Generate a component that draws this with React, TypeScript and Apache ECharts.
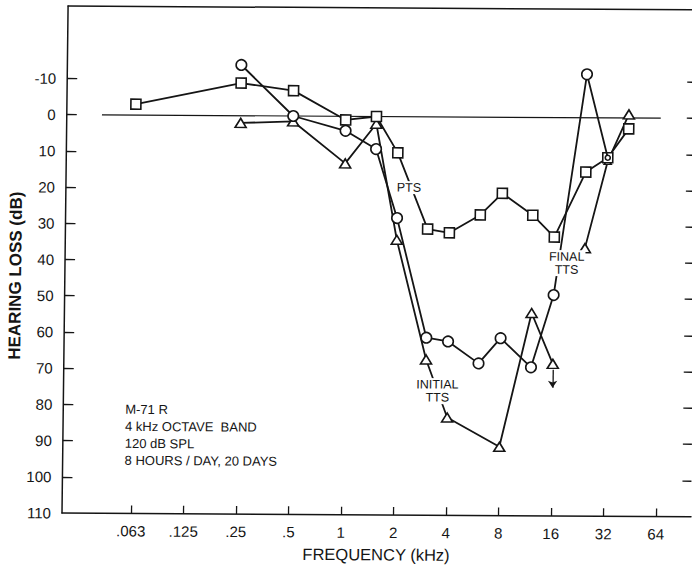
import React, { useEffect, useRef } from "react";
import * as echarts from "echarts";

// Octave-band frequency axis (kHz) and hearing-loss axis (dB)
const FREQ_TICKS = [0.0625, 0.125, 0.25, 0.5, 1, 2, 4, 8, 16, 32, 64];
const FREQ_TICK_LABELS = [".063", ".125", ".25", ".5", "1", "2", "4", "8", "16", "32", "64"];
const DB_LABELS = [-10, 0, 10, 20, 30, 40, 50, 60, 70, 80, 90, 100, 110];
const DB_TICKS = [-10, 0, 10, 20, 30, 40, 50, 60, 70, 80, 90, 100];

// Permanent threshold shift (squares)
const PTS_FREQ = [0.0625, 0.25, 0.5, 1, 1.5, 2, 3, 4, 6, 8, 12, 16, 24, 32, 42];
const PTS_DB = [-3, -9, -7, 1, 0, 10, 31, 32, 27, 21, 27, 33, 15, 11, 3];

// Final temporary threshold shift (circles)
const FINAL_FREQ = [0.25, 0.5, 1, 1.5, 2, 3, 4, 6, 8, 12, 16, 24, 32];
const FINAL_DB = [-14, 0, 4, 9, 28, 61, 62, 68, 61, 69, 49, -12, 11];

// Initial temporary threshold shift (triangles), two separate runs
const INITIAL_FREQ = [0.25, 0.5, 1, 1.5, 2, 3, 4, 8, 12, 16];
const INITIAL_DB = [2, 1.5, 13, 2, 34, 67, 83, 91, 54, 68];
const INITIAL_HIGH_FREQ = [24, 32, 42];
const INITIAL_HIGH_DB = [36, 12, -1];

// 0 dB reference line
const REF_FREQ = [0.04, 64];
const REF_DB = [0, 0];

// Series captions anchored in data space [kHz, dB]
const PTS_CAPTION_AT = [2.33, 19.6];
const FINAL_CAPTION_AT = [18.9, 40.2];
const INITIAL_CAPTION_AT = [3.5, 75.7];

// "Greater than" arrow below the last initial-TTS point
const ARROW_FREQ = 16;
const ARROW_FROM_DB = 69.6;
const ARROW_TO_DB = 74.6;

const NOTE_LINES = ["M-71 R", "4 kHz OCTAVE  BAND", "120 dB SPL", "8 HOURS / DAY, 20 DAYS"];

const X_MIN = -5.314;
const X_MAX = 6.667;
const INK = "#151515";
const FONT = '"Liberation Sans", Arial, sans-serif';

const oct = (f: number) => Math.log2(f);
const pairs = (fs: number[], ds: number[]) => fs.map((f, i) => [oct(f), ds[i]]);

const tickLabel = (v: number) => {
  const i = FREQ_TICKS.findIndex((f) => Math.abs(oct(f) - v) < 1e-6);
  return i >= 0 ? FREQ_TICK_LABELS[i] : "";
};

const captionLabel = (text: string) => ({
  show: true,
  position: "inside",
  formatter: text,
  color: INK,
  fontFamily: FONT,
  fontSize: 12.5,
  lineHeight: 13,
  backgroundColor: "#fff",
  padding: [0, 1],
});

const markerStyle = {
  color: "#fff",
  borderColor: INK,
  borderWidth: 1.6,
};

export default function App() {
  const ref = useRef<HTMLDivElement>(null);

  useEffect(() => {
    if (!ref.current) return;
    const chart = echarts.init(ref.current, null, { renderer: "svg", width: 692, height: 566 });

    const finalData = FINAL_FREQ.map((f, i) =>
      f === 32 ? { value: [oct(f), FINAL_DB[i]], symbolSize: 5 } : [oct(f), FINAL_DB[i]]
    );
    const initialHighData = INITIAL_HIGH_FREQ.map((f, i) =>
      f === 32 ? { value: [oct(f), INITIAL_HIGH_DB[i]], symbolSize: [7, 6] } : [oct(f), INITIAL_HIGH_DB[i]]
    );

    const option: any = {
      animation: false,
      backgroundColor: "#fff",
      grid: { left: 62, right: 1, top: 6, bottom: 53, containLabel: false },
      xAxis: [
        {
          type: "value",
          position: "bottom",
          min: X_MIN,
          max: X_MAX,
          axisLine: { show: true, onZero: false, lineStyle: { color: INK, width: 1.5 } },
          axisTick: {
            show: true,
            inside: true,
            length: 8,
            customValues: FREQ_TICKS.map(oct),
            lineStyle: { color: INK, width: 1.3 },
          },
          axisLabel: {
            customValues: FREQ_TICKS.map(oct),
            formatter: (v: number) => tickLabel(v),
            color: INK,
            fontFamily: FONT,
            fontSize: 15,
            margin: 10,
          },
          splitLine: { show: false },
          name: "FREQUENCY (kHz)",
          nameLocation: "middle",
          nameGap: 31,
          nameTextStyle: { color: INK, fontFamily: FONT, fontSize: 16.5 },
        },
        {
          type: "value",
          position: "top",
          min: X_MIN,
          max: X_MAX,
          axisLine: { show: true, onZero: false, lineStyle: { color: INK, width: 1.5 } },
          axisTick: { show: false },
          axisLabel: { show: false },
          splitLine: { show: false },
        },
      ],
      yAxis: [
        {
          type: "value",
          position: "left",
          inverse: true,
          min: -30,
          max: 110,
          axisLine: { show: true, onZero: false, lineStyle: { color: INK, width: 1.5 } },
          axisTick: {
            show: true,
            inside: true,
            length: 10,
            customValues: DB_TICKS,
            lineStyle: { color: INK, width: 1.3 },
          },
          axisLabel: {
            customValues: DB_LABELS,
            color: INK,
            fontFamily: FONT,
            fontSize: 15,
            margin: 11,
          },
          splitLine: { show: false },
        },
        {
          type: "value",
          position: "right",
          inverse: true,
          min: -30,
          max: 110,
          axisLine: { show: false, onZero: false },
          axisTick: {
            show: true,
            inside: true,
            length: 9,
            customValues: DB_TICKS,
            lineStyle: { color: INK, width: 1.3 },
          },
          axisLabel: { show: false },
          splitLine: { show: false },
        },
      ],
      series: [
        {
          name: "0 dB",
          type: "line",
          data: pairs(REF_FREQ, REF_DB),
          showSymbol: false,
          symbol: "none",
          lineStyle: { color: INK, width: 1.2 },
          silent: true,
          z: 1,
        },
        {
          name: "Initial TTS",
          type: "line",
          data: pairs(INITIAL_FREQ, INITIAL_DB),
          symbol: "triangle",
          symbolSize: [11, 9],
          lineStyle: { color: INK, width: 1.8 },
          itemStyle: markerStyle,
          silent: true,
          z: 2,
          markPoint: {
            symbol: "circle",
            symbolSize: 0,
            silent: true,
            label: captionLabel("INITIAL\nTTS"),
            data: [{ coord: [oct(INITIAL_CAPTION_AT[0]), INITIAL_CAPTION_AT[1]] }],
          },
          markLine: {
            silent: true,
            symbol: ["none", "arrow"],
            symbolSize: 7,
            label: { show: false },
            lineStyle: { color: INK, width: 1.3, type: "solid" },
            data: [
              [
                { coord: [oct(ARROW_FREQ), ARROW_FROM_DB] },
                { coord: [oct(ARROW_FREQ), ARROW_TO_DB] },
              ],
            ],
          },
        },
        {
          name: "Initial TTS (high)",
          type: "line",
          data: initialHighData,
          symbol: "triangle",
          symbolSize: [11, 9],
          lineStyle: { color: INK, width: 1.8 },
          itemStyle: markerStyle,
          silent: true,
          z: 2,
        },
        {
          name: "PTS",
          type: "line",
          data: pairs(PTS_FREQ, PTS_DB),
          symbol: "rect",
          symbolSize: 10,
          lineStyle: { color: INK, width: 1.8 },
          itemStyle: markerStyle,
          silent: true,
          z: 3,
          markPoint: {
            symbol: "circle",
            symbolSize: 0,
            silent: true,
            label: captionLabel("PTS"),
            data: [{ coord: [oct(PTS_CAPTION_AT[0]), PTS_CAPTION_AT[1]] }],
          },
        },
        {
          name: "Final TTS",
          type: "line",
          data: finalData,
          symbol: "circle",
          symbolSize: 10.5,
          lineStyle: { color: INK, width: 1.8 },
          itemStyle: markerStyle,
          silent: true,
          z: 4,
          markPoint: {
            symbol: "circle",
            symbolSize: 0,
            silent: true,
            label: captionLabel("FINAL\nTTS"),
            data: [{ coord: [oct(FINAL_CAPTION_AT[0]), FINAL_CAPTION_AT[1]] }],
          },
        },
      ],
      graphic: [
        {
          type: "text",
          x: 12.7,
          y: 276,
          rotation: Math.PI / 2,
          silent: true,
          style: {
            text: "HEARING LOSS (dB)",
            font: `bold 17px ${FONT}`,
            fill: INK,
            textAlign: "center",
            textVerticalAlign: "middle",
          },
        },
        {
          type: "text",
          x: 124,
          y: 400.5,
          silent: true,
          style: {
            text: NOTE_LINES.join("\n"),
            font: `13px ${FONT}`,
            fill: INK,
            lineHeight: 17,
            textAlign: "left",
            textVerticalAlign: "top",
          },
        },
      ],
    };

    chart.setOption(option);
    return () => chart.dispose();
  }, []);

  return (
    <div
      style={{
        position: "fixed",
        left: 0,
        top: 0,
        width: 692,
        height: 566,
        overflow: "hidden",
        background: "#fff",
      }}
    >
      <div
        ref={ref}
        style={{
          width: 692,
          height: 566,
          transformOrigin: "62px 513px",
          transform: "matrix(1, 0.006, -0.012, 1, 0, 0)",
        }}
      />
    </div>
  );
}
